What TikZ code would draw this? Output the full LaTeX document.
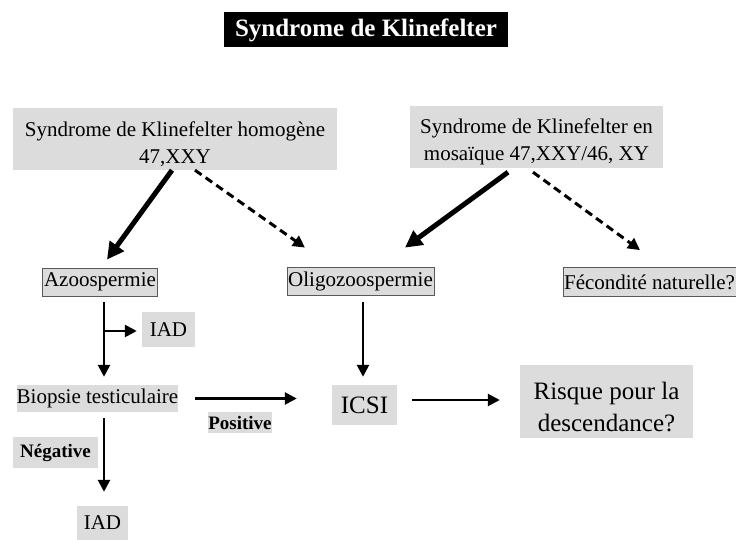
\documentclass[tikz,border=0pt]{standalone}
\usepackage{fontspec}
\setmainfont{Liberation Serif}
\usetikzlibrary{arrows.meta}
\definecolor{boxgray}{HTML}{DCDCDC}
\begin{document}
\begin{tikzpicture}[x=1pt,y=-1pt,
  gbox/.style={fill=boxgray,inner sep=0pt,align=center,font=\fontsize{21}{27}\selectfont},
  bbox/.style={gbox,draw=black!65,line width=0.8pt},
  lbl/.style={fill=boxgray,inner sep=0pt,font=\fontsize{19}{22}\selectfont\bfseries},
  thick arr/.style={line width=5pt,-{Triangle[length=17pt,width=17pt]}},
  dash arr/.style={line width=3pt,dash pattern=on 8pt off 5pt,-{Triangle[length=12pt,width=12pt]}},
  thin arr/.style={line width=2.6pt,-{Triangle[length=12pt,width=12pt]}}]
\useasboundingbox (0,0) rectangle (736,540);
\node[fill=black,text=white,inner sep=0pt,minimum width=284pt,minimum height=35pt,font=\fontsize{25}{28}\selectfont\bfseries] (title) at (366,30) {Syndrome de Klinefelter};
\node[gbox,minimum width=324pt,minimum height=62pt] (box1) at (175,139) {\rule{0pt}{25pt}Syndrome de Klinefelter homogène\\47,XXY};
\node[gbox,minimum width=253pt,minimum height=62pt] (box2) at (536.5,137) {\rule{0pt}{25pt}Syndrome de Klinefelter en\\mosaïque 47,XXY/46, XY};
\node[bbox,minimum width=115pt,minimum height=28pt] (azoo) at (100,282) {Azoospermie};
\node[bbox,minimum width=147pt,minimum height=28pt] (oligo) at (360.5,281) {Oligozoospermie};
\node[bbox,minimum width=173pt,minimum height=29pt] (fec) at (649.5,282) {Fécondité naturelle?};
\node[gbox,minimum width=53pt,minimum height=35pt] (iad1) at (168.5,329.5) {IAD};
\node[gbox,minimum width=161pt,minimum height=27pt] (biop) at (97.5,398.5) {Biopsie testiculaire};
\node[lbl,minimum width=64pt,minimum height=21pt] (pos) at (240,422.5) {Positive};
\node[lbl,minimum width=85pt,minimum height=31pt] (neg) at (55.5,452.5) {Négative};
\node[gbox,minimum width=51pt,minimum height=34pt] (iad2) at (102.5,523) {IAD};
\node[gbox,minimum width=65pt,minimum height=40pt,font=\fontsize{25}{28}\selectfont] (icsi) at (364.5,405) {ICSI};
\node[gbox,minimum width=173pt,minimum height=73pt,font=\fontsize{25}{32}\selectfont] (risk) at (606.5,401.5) {\rule{0pt}{28pt}Risque pour la\\descendance?};
% connectors
\draw[thick arr] ([xshift=-3pt]box1.south) -- ([shift={(7pt,8pt)}]azoo.north);
\draw[dash arr] ([xshift=20pt]box1.south) -- ([shift={(-55.5pt,19pt)}]oligo.north);
\draw[thick arr] ([shift={(-28.5pt,-4pt)}]box2.south) -- ([shift={(44.5pt,19pt)}]oligo.north);
\draw[dash arr] ([shift={(-3.5pt,-4pt)}]box2.south) -- ([shift={(-9.5pt,17pt)}]fec.north);
\draw[thin arr] ([shift={(4pt,-6pt)}]azoo.south) -- ([shift={(6.5pt,8pt)}]biop.north);
\coordinate (br) at (104,331);
\draw[thin arr,shorten >=5pt] (br) -- (br -| iad1.west);
\draw[thin arr,shorten <=17pt,shorten >=35pt] (biop.east) -- (biop.east -| icsi.west);
\draw[thin arr] ([shift={(6.5pt,-6pt)}]biop.south) -- ([shift={(1.5pt,14pt)}]iad2.north);
\draw[thin arr] ([shift={(2.5pt,-7pt)}]oligo.south) -- ([shift={(-1.5pt,8pt)}]icsi.north);
\draw[thin arr,shorten <=15pt,shorten >=20pt] ([yshift=5pt]icsi.east) -- ([yshift=5pt]icsi.east -| risk.west);
\end{tikzpicture}
\end{document}
